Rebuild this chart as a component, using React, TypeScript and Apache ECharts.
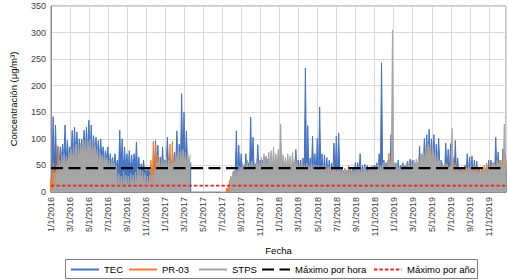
import React, { useEffect, useRef } from "react";
import * as echarts from "echarts";

// x position unit: months since 1/1/2016 (each month split into 4 quarter-month samples)
const tickLabels = [
  "1/1/2016", "3/1/2016", "5/1/2016", "7/1/2016", "9/1/2016", "11/1/2016",
  "1/1/2017", "3/1/2017", "5/1/2017", "7/1/2017", "9/1/2017", "11/1/2017",
  "1/1/2018", "3/1/2018", "5/1/2018", "7/1/2018", "9/1/2018", "11/1/2018",
  "1/1/2019", "3/1/2019", "5/1/2019", "7/1/2019", "9/1/2019", "11/1/2019",
];
const xMax = 47.8;
const maxPorHora = 45;
const maxPorAno = 12;

// TEC – quarter-month peak values (µg/m³)
const tecPeak = [
  // 2016
  142, 126, 86, 85, 90, 126, 97, 85, 116, 122, 113, 100, 100, 116, 122, 135,
  126, 106, 103, 97, 100, 85, 78, 85, 72, 65, 72, 60, 116, 100, 85, 72,
  78, 70, 72, 94, 66, 53, 60, 42, 45, 47, 47, 97, 88, 66, 85, 60,
  // 2017
  103, 70, 60, 75, 115, 90, 185, 150, 115, 60, 55, null, null, null, null, null,
  null, null, null, null, null, null, null, null, null, null, null, null, 40, 115, 88, 72,
  50, 72, 55, 141, 103, 53, 89, 60, 60, 66, 62, 55, 55, 50, 60, 55,
  // 2018
  50, 55, 45, 50, 50, 55, 80, 60, 60, 64, 233, 125, 64, 105, 72, 101,
  160, 72, 70, 65, 60, 55, 92, 105, 111, 45, 40, 42, 40, 42, 45, 55,
  55, 72, 50, 52, 50, 45, 48, 50, 55, 72, 243, 60, 55, 60, 108, 50,
  // 2019
  55, 60, 50, 55, 50, 58, 62, 60, 55, 50, 86, 70, 101, 108, 118, 100,
  108, 90, 101, 60, 50, 92, 80, 91, 60, 97, 64, 45, 45, 50, 72, 66,
  68, 60, 58, 45, 40, 40, 45, 60, 60, 55, 103, 75, 60, 81, 70, 55,
];
// TEC – monthly body level (dips between peaks)
const tecBody = [
  45, 60, 65, 70, 70, 60, 45, 40, 40, 35, 35, 40,
  45, 50, 50, 0, 0, 0, 0, 30, 35, 35, 38, 38,
  32, 32, 32, 32, 32, 30, 28, 28, 28, 28, 30, 30,
  30, 30, 35, 50, 50, 38, 32, 32, 30, 28, 32, 35,
];

// PR-03 – quarter-month peak values
const pr03Peak = [
  // 2016
  25, 55, 40, 85, 40, 35, 30, 60, 30, 70, 30, 25, 25, 20, 25, 20,
  25, 30, 20, 20, 20, 18, 20, 15, 15, 20, 35, 15, 12, 15, 12, 10,
  10, 12, 10, 12, 15, 28, 30, 12, 15, 20, 60, 95, 90, 70, 40, 25,
  // 2017
  30, 40, 90, 95, 40, 30, 35, 30, 25, 20, 20, null, null, null, null, null,
  null, null, null, null, null, null, null, null, null, null, 8, 22, 25, 28, 25, 30,
  30, 28, 32, 30, 30, 35, 30, 28, 30, 32, 35, 30, 28, 30, 32, 35,
  // 2018
  35, 30, 32, 30, 40, 35, 30, 32, 30, 35, 30, 28, 30, 28, 35, 30,
  35, 40, 30, 32, 30, 45, 35, 30, 30, 28, 30, 32, 35, 50, 30, 28,
  30, 32, 35, 30, 32, 35, 30, 38, 35, 40, 38, 35, 40, 45, 73, 40,
  // 2019
  45, 40, 35, 38, 40, 45, 42, 40, 45, 50, 55, 60, 60, 65, 70, 85,
  70, 60, 55, 50, 45, 50, 55, 45, 50, 65, 55, 45, 40, 45, 50, 45,
  40, 42, 50, 45, 40, 45, 50, 55, 45, 50, 55, 50, 55, 60, 75, 60,
];
const pr03Body = [
  15, 10, 8, 8, 8, 8, 8, 2, 2, 3, 10, 10,
  15, 10, 10, 0, 0, 0, 5, 10, 10, 10, 10, 10,
  10, 10, 10, 10, 10, 10, 10, 10, 10, 10, 10, 12,
  12, 12, 12, 15, 15, 12, 12, 12, 12, 12, 12, 15,
];

// STPS – quarter-month peak values
const stpsPeak = [
  // 2016
  5, 35, 50, 60, 70, 72, 68, 75, 80, 85, 90, 88, 92, 98, 100, 96,
  100, 95, 88, 80, 75, 70, 72, 65, 60, 62, 55, 50, 35, 30, 38, 32,
  30, 35, 32, 38, 45, 50, 40, 35, 30, 32, 35, 40, 55, 62, 65, 58,
  // 2017
  65, 60, 55, 62, 70, 83, 78, 80, 75, 72, 70, null, null, null, null, null,
  null, null, null, null, null, null, null, null, null, null, null, 30, 38, 45, 50, 47,
  55, 52, 60, 55, 58, 55, 62, 60, 65, 72, 68, 75, 78, 85, 72, 80,
  // 2018
  128, 70, 65, 72, 68, 75, 62, 60, 55, 58, 52, 55, 50, 55, 52, 50,
  50, 48, 52, 50, 48, 45, 50, 47, 45, 45, 43, 45, 40, 42, 40, 45,
  45, 48, 45, 47, 45, 47, 48, 50, 50, 52, 50, 55, 55, 60, 58, 305,
  // 2019
  55, 50, 48, 52, 50, 55, 52, 58, 60, 62, 65, 72, 78, 85, 90, 88,
  82, 75, 70, 60, 55, 50, 52, 48, 120, 50, 48, 45, 45, 42, 45, 48,
  50, 48, 45, 42, 40, 42, 45, 48, 50, 55, 52, 60, 60, 55, 128, 60,
];
const stpsBody = [
  0, 40, 50, 65, 65, 50, 40, 0, 0, 10, 0, 35,
  40, 50, 50, 0, 0, 0, 5, 25, 35, 35, 40, 45,
  45, 40, 35, 35, 35, 32, 32, 30, 32, 32, 35, 38,
  35, 35, 40, 55, 50, 35, 32, 30, 30, 30, 35, 38,
];

const legendNames = ["TEC", "PR-03", "STPS", "Máximo por hora", "Máximo por año"];

// shift: sub-sample timing offset (months) so the three records interleave
function toPoints(peak: (number | null)[], body: number[], shift: number) {
  const pts: [number, number | null][] = [];
  peak.forEach((h, k) => {
    const l = body[Math.floor(k / 4)];
    const x0 = k / 4 + shift;
    if (h == null || l == null) {
      pts.push([x0, null]);
      pts.push([x0 + 0.125, null]);
    } else {
      pts.push([x0, l]);
      pts.push([x0 + 0.125, h]);
    }
  });
  return pts;
}

const FONT = "'Liberation Sans', Arial, sans-serif";

export default function App() {
  const ref = useRef<HTMLDivElement>(null);
  useEffect(() => {
    if (!ref.current) return;
    const chart = echarts.init(ref.current, undefined, { renderer: "svg" });
    const dataLine = (name: string, color: string, pts: any[], z: number) => ({
      name,
      type: "line",
      z,
      data: pts,
      symbol: "none",
      showSymbol: false,
      connectNulls: false,
      lineStyle: { color, width: 1 },
      itemStyle: { color },
      areaStyle: { color, opacity: 1 },
      silent: true,
    });
    const legendLefts = [70, 128, 198, 261, 373];
    const legends = legendNames.map((n, i) => ({
      left: legendLefts[i],
      top: 264.5,
      padding: 0,
      itemWidth: 28,
      itemHeight: 10,
      textStyle: { fontSize: 9.5, color: "#000", fontFamily: FONT },
      lineStyle: { width: 2 },
      itemStyle: { opacity: 0 },
      selectedMode: false,
      data: [n],
    }));
    chart.setOption({
      animation: false,
      textStyle: { fontFamily: FONT },
      grid: { left: 37.5, right: 2, top: 6, bottom: 88, show: true, borderColor: "#8c8c8c", borderWidth: 1 },
      legend: legends,
      graphic: [
        {
          type: "rect",
          shape: { x: 65.5, y: 259.5, width: 412, height: 19 },
          style: { fill: "none", stroke: "#808080", lineWidth: 1 },
          silent: true,
        },
      ],
      xAxis: {
        type: "value",
        min: 0,
        max: xMax,
        interval: 2,
        name: "Fecha",
        nameLocation: "middle",
        nameGap: 53,
        nameTextStyle: { fontSize: 9.5, color: "#000", fontFamily: FONT },
        axisLine: { show: true, lineStyle: { color: "#8c8c8c" } },
        axisTick: { show: false },
        axisLabel: {
          rotate: 90,
          fontSize: 9,
          color: "#404040",
          margin: 5,
          fontFamily: FONT,
          formatter: (v: number) => tickLabels[Math.round(v / 2)] ?? "",
        },
        splitLine: { show: true, lineStyle: { color: "#d9d9d9", width: 1 } },
      },
      yAxis: {
        type: "value",
        min: 0,
        max: 350,
        interval: 50,
        name: "Concentración (μg/m³)",
        nameLocation: "middle",
        nameGap: 33,
        nameTextStyle: { fontSize: 9.5, color: "#000", fontFamily: FONT },
        axisLine: { show: true, lineStyle: { color: "#8c8c8c" } },
        axisTick: { show: false },
        axisLabel: { fontSize: 9, color: "#404040", margin: 5, fontFamily: FONT },
        splitLine: { show: true, lineStyle: { color: "#d9d9d9", width: 1 } },
      },
      series: [
        dataLine("TEC", "#4472C4", toPoints(tecPeak, tecBody, 0.1), 2),
        dataLine("PR-03", "#ED7D31", toPoints(pr03Peak, pr03Body, -0.125), 3),
        dataLine("STPS", "#A5A5A5", toPoints(stpsPeak, stpsBody, 0), 4),
        {
          name: "Máximo por hora",
          type: "line",
          symbol: "none",
          data: [[0, maxPorHora], [xMax, maxPorHora]],
          lineStyle: { color: "#000", width: 2.2, type: [12, 5.5] },
          itemStyle: { color: "#000" },
          z: 5,
        },
        {
          name: "Máximo por año",
          type: "line",
          symbol: "none",
          data: [[0, maxPorAno], [xMax, maxPorAno]],
          lineStyle: { color: "#f02020", width: 1.8, type: [3.3, 2.2] },
          itemStyle: { color: "#f02020" },
          z: 6,
        },
      ],
    });
    return () => chart.dispose();
  }, []);
  return (
    <div
      ref={ref}
      style={{ position: "absolute", left: 0, top: 0, width: 508, height: 280, background: "#fff" }}
    />
  );
}
